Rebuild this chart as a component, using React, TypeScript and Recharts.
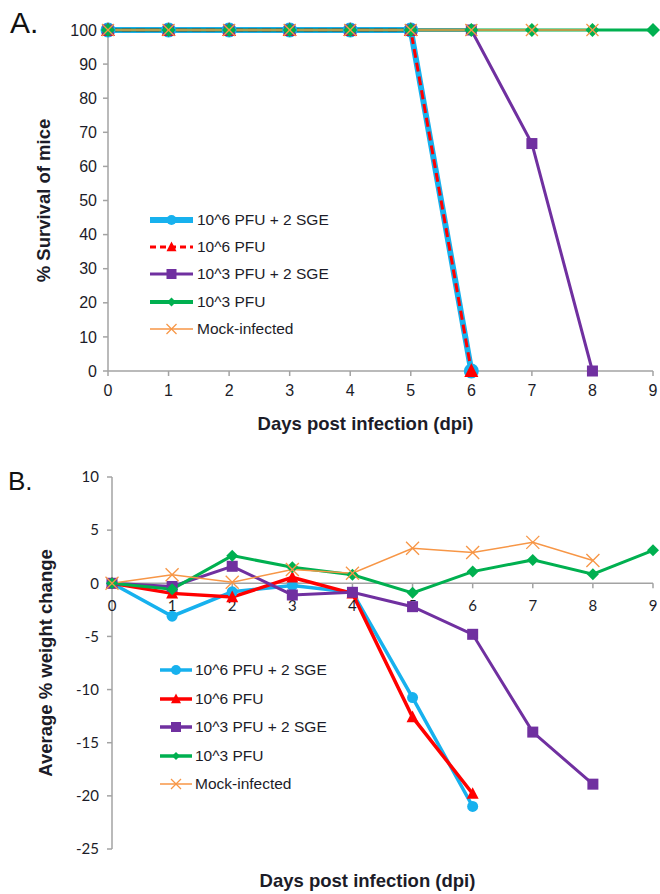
import React from 'react';
import { LineChart, Line, XAxis, YAxis, Legend, ReferenceLine, ReferenceDot } from 'recharts';

// ---------- data ----------
const days = [0, 1, 2, 3, 4, 5, 6, 7, 8, 9];
const seriesNames = ['10^6 PFU + 2 SGE', '10^6 PFU', '10^3 PFU + 2 SGE', '10^3 PFU', 'Mock-infected'];
const survivalTicks = [0, 10, 20, 30, 40, 50, 60, 70, 80, 90, 100];
const weightTicks = [-25, -20, -15, -10, -5, 0, 5, 10];

// Panel A: % survival
const survivalHigh2SGE = [100, 100, 100, 100, 100, 100, 0];
const survivalHigh = [100, 100, 100, 100, 100, 100, 0];
const survivalLow2SGE = [100, 100, 100, 100, 100, 100, 100, 66.7, 0];
const survivalLow = [100, 100, 100, 100, 100, 100, 100, 100, 100, 100];
const survivalMock = [100, 100, 100, 100, 100, 100, 100, 100, 100];

// Panel B: average % weight change
const weightHigh2SGE = [0, -3.1, -0.8, -0.2, -0.85, -10.75, -21.0];
const weightHigh = [0, -0.95, -1.3, 0.55, -0.95, -12.6, -19.8];
const weightLow2SGE = [0, -0.3, 1.6, -1.1, -0.85, -2.2, -4.8, -14.0, -18.9];
const weightLow = [0, -0.55, 2.6, 1.5, 0.8, -0.9, 1.1, 2.2, 0.85, 3.1];
const weightMock = [0, 0.8, 0.1, 1.3, 0.95, 3.3, 2.9, 3.85, 2.15];

const keys = ['s0', 's1', 's2', 's3', 's4'];

const buildRows = (series: number[][]) =>
  days.map((d, i) => {
    const row: any = { day: d };
    series.forEach((arr, k) => {
      row[keys[k]] = i < arr.length ? arr[i] : undefined;
    });
    return row;
  });

const survivalRows = buildRows([survivalHigh2SGE, survivalHigh, survivalLow2SGE, survivalLow, survivalMock]);
const weightRows = buildRows([weightHigh2SGE, weightHigh, weightLow2SGE, weightLow, weightMock]);

// ---------- styles ----------
const FONT_ARIAL = '"Liberation Sans", Arial, sans-serif';
const FONT_CAL = 'Lato, "Open Sans", sans-serif';
const AXIS_GRAY = '#a3a3a3';
const TEXT = '#1c1c28';

type Shape = 'circle' | 'triangle' | 'square' | 'diamond' | 'x';
interface SeriesStyle {
  key: string;
  name: string;
  color: string;
  width: number;
  dash?: string;
  shape: Shape;
  size: number;
  legendSize: number;
  legendWidth: number;
}

const colors = ['#17B1EE', '#FF0000', '#7030A0', '#00B050', '#F79646'];
const shapes: Shape[] = ['circle', 'triangle', 'square', 'diamond', 'x'];

const topStyles: SeriesStyle[] = [
  { key: 's0', name: seriesNames[0], color: colors[0], width: 6, shape: shapes[0], size: 15, legendSize: 10, legendWidth: 6 },
  { key: 's1', name: seriesNames[1], color: colors[1], width: 3, dash: '9 5', shape: shapes[1], size: 14, legendSize: 10, legendWidth: 3 },
  { key: 's2', name: seriesNames[2], color: colors[2], width: 3, shape: shapes[2], size: 11, legendSize: 10, legendWidth: 3 },
  { key: 's3', name: seriesNames[3], color: colors[3], width: 3, shape: shapes[3], size: 14, legendSize: 9, legendWidth: 4 },
  { key: 's4', name: seriesNames[4], color: colors[4], width: 1.5, shape: shapes[4], size: 12, legendSize: 10, legendWidth: 1.5 },
];

const bottomStyles: SeriesStyle[] = [
  { key: 's0', name: seriesNames[0], color: colors[0], width: 3.5, shape: shapes[0], size: 11, legendSize: 10, legendWidth: 3.5 },
  { key: 's1', name: seriesNames[1], color: colors[1], width: 3.5, shape: shapes[1], size: 12, legendSize: 10, legendWidth: 3.5 },
  { key: 's2', name: seriesNames[2], color: colors[2], width: 3, shape: shapes[2], size: 11, legendSize: 10, legendWidth: 3.5 },
  { key: 's3', name: seriesNames[3], color: colors[3], width: 3, shape: shapes[3], size: 12, legendSize: 8, legendWidth: 3.5 },
  { key: 's4', name: seriesNames[4], color: colors[4], width: 1.5, shape: shapes[4], size: 13, legendSize: 10, legendWidth: 1.5 },
];

function Marker({ shape, cx, cy, size, color }: { shape: Shape; cx: number; cy: number; size: number; color: string }) {
  const h = size / 2;
  switch (shape) {
    case 'circle':
      return <circle cx={cx} cy={cy} r={h} fill={color} />;
    case 'triangle':
      return (
        <polygon
          points={`${cx},${cy - size * 0.55} ${cx - h},${cy + size * 0.42} ${cx + h},${cy + size * 0.42}`}
          fill={color}
        />
      );
    case 'square':
      return <rect x={cx - h} y={cy - h} width={size} height={size} fill={color} />;
    case 'diamond':
      return <polygon points={`${cx},${cy - h} ${cx + h},${cy} ${cx},${cy + h} ${cx - h},${cy}`} fill={color} />;
    case 'x':
    default:
      return (
        <g stroke={color} strokeWidth={1.3}>
          <line x1={cx - h} y1={cy - h} x2={cx + h} y2={cy + h} />
          <line x1={cx - h} y1={cy + h} x2={cx + h} y2={cy - h} />
        </g>
      );
  }
}

const makeDot = (s: SeriesStyle) => (props: any) => {
  const { cx, cy, index } = props;
  if (cx == null || cy == null || Number.isNaN(cx) || Number.isNaN(cy)) {
    return <g key={`e-${s.key}-${index}`} />;
  }
  return (
    <g key={`d-${s.key}-${index}`}>
      <Marker shape={s.shape} cx={cx} cy={cy} size={s.size} color={s.color} />
    </g>
  );
};

const makeLegend = (styles: SeriesStyle[], lineLen: number, gap: number, rowH: number) => (props: any) => {
  const payload: any[] = props && props.payload ? props.payload : [];
  return (
    <div style={{ fontFamily: FONT_ARIAL, fontSize: 15.5, color: TEXT }}>
      {styles.map((s) => {
        const entry = payload.find((p) => p.dataKey === s.key);
        const color = entry && entry.color ? entry.color : s.color;
        const label = entry && entry.value ? entry.value : s.name;
        return (
          <div key={s.key} style={{ display: 'flex', alignItems: 'center', height: rowH, whiteSpace: 'nowrap' }}>
            <svg width={lineLen} height={16} style={{ display: 'block', overflow: 'visible' }}>
              <line x1={0} y1={8} x2={lineLen} y2={8} stroke={color} strokeWidth={s.legendWidth} strokeDasharray={s.dash ? '6 4' : undefined} />
              <Marker shape={s.shape} cx={lineLen / 2} cy={8} size={s.legendSize} color={color} />
            </svg>
            <span style={{ marginLeft: gap }}>{label}</span>
          </div>
        );
      })}
    </div>
  );
};

const yTitle = (text: string, xPos: number) => (props: any) => {
  const vb = props && props.viewBox;
  if (!vb) return null;
  const cy = vb.y + vb.height / 2;
  return (
    <text
      x={xPos}
      y={cy}
      transform={`rotate(-90 ${xPos} ${cy})`}
      textAnchor="middle"
      dominantBaseline="central"
      fontFamily={FONT_ARIAL}
      fontWeight="bold"
      fontSize={18.5}
      fill={TEXT}
    >
      {text}
    </text>
  );
};

const xTitle = (text: string, dx: number, dyFromTop: number) => (props: any) => {
  const vb = props && props.viewBox;
  if (!vb) return null;
  const x = vb.x + vb.width / 2 + dx;
  const y = vb.y + dyFromTop;
  return (
    <text x={x} y={y} textAnchor="middle" dominantBaseline="central" fontFamily={FONT_ARIAL} fontWeight="bold" fontSize={18.5} fill={TEXT}>
      {text}
    </text>
  );
};

const makeXTick = (label: number) => (props: any) => {
  const { cx, cy } = props;
  return (
    <g>
      <line x1={cx} y1={cy} x2={cx} y2={cy + 5} stroke={AXIS_GRAY} strokeWidth={1.5} />
      <text x={cx} y={cy + 22} dy="0.35em" textAnchor="middle" fontFamily={FONT_CAL} fontSize={15} fill={TEXT}>
        {label}
      </text>
    </g>
  );
};

export default function App() {
  return (
    <div style={{ position: 'absolute', left: 0, top: 0, width: 660, height: 894, background: '#fff', overflow: 'hidden' }}>
      {/* Panel A */}
      <div style={{ position: 'absolute', left: 0, top: 0 }}>
        <LineChart width={660} height={450} data={survivalRows} margin={{ top: 30, right: 7, bottom: 0, left: 0 }}>
          <XAxis
            dataKey="day"
            type="number"
            domain={[0, 9]}
            ticks={days}
            interval={0}
            height={79}
            stroke={AXIS_GRAY}
            strokeWidth={1.5}
            tickSize={5}
            tickMargin={9}
            tick={{ fill: TEXT, fontSize: 16, fontFamily: FONT_ARIAL }}
            label={xTitle('Days post infection (dpi)', -15, 52)}
          />
          <YAxis
            type="number"
            domain={[0, 100]}
            ticks={survivalTicks}
            interval={0}
            width={108}
            stroke={AXIS_GRAY}
            strokeWidth={1.5}
            tickSize={5}
            tickMargin={6}
            tick={{ fill: TEXT, fontSize: 16, fontFamily: FONT_ARIAL }}
            label={yTitle('% Survival of mice', 43)}
          />
          <Legend
            layout="vertical"
            align="center"
            verticalAlign="middle"
            content={makeLegend(topStyles, 43, 4, 27.3)}
            wrapperStyle={{ left: 150, top: 206, width: 'auto', height: 'auto' }}
          />
          {topStyles.map((s) => (
            <Line
              key={s.key}
              dataKey={s.key}
              name={s.name}
              type="linear"
              stroke={s.color}
              strokeWidth={s.width}
              strokeDasharray={s.dash}
              dot={makeDot(s)}
              activeDot={false}
              isAnimationActive={false}
            />
          ))}
        </LineChart>
      </div>

      {/* Panel B */}
      <div style={{ position: 'absolute', left: 0, top: 450 }}>
        <LineChart width={660} height={444} data={weightRows} margin={{ top: 27, right: 7, bottom: 0, left: 0 }}>
          <XAxis
            dataKey="day"
            type="number"
            domain={[0, 9]}
            ticks={days}
            interval={0}
            height={45}
            axisLine={false}
            tickLine={false}
            tick={false}
            label={xTitle('Days post infection (dpi)', -15, 31)}
          />
          <YAxis
            type="number"
            domain={[-25, 10]}
            ticks={weightTicks}
            interval={0}
            width={112}
            stroke={AXIS_GRAY}
            strokeWidth={1.5}
            tickSize={5}
            tickMargin={8}
            tick={{ fill: TEXT, fontSize: 15, fontFamily: FONT_CAL }}
            label={yTitle('Average % weight change', 45)}
          />
          <ReferenceLine y={0} stroke={AXIS_GRAY} strokeWidth={1.5} />
          {days.map((d) => (
            <ReferenceDot key={`xt-${d}`} x={d} y={0} r={0} shape={makeXTick(d)} />
          ))}
          <Legend
            layout="vertical"
            align="center"
            verticalAlign="middle"
            content={makeLegend(bottomStyles, 32, 3, 28.5)}
            wrapperStyle={{ left: 160, top: 206, width: 'auto', height: 'auto' }}
          />
          {bottomStyles.map((s) => (
            <Line
              key={s.key}
              dataKey={s.key}
              name={s.name}
              type="linear"
              stroke={s.color}
              strokeWidth={s.width}
              dot={makeDot(s)}
              activeDot={false}
              isAnimationActive={false}
            />
          ))}
        </LineChart>
      </div>

      {/* Panel letters */}
      <svg width={660} height={894} style={{ position: 'absolute', left: 0, top: 0, pointerEvents: 'none' }}>
        <text x={10} y={33} fontFamily={FONT_ARIAL} fontSize={30} fill="#111">A.</text>
        <text x={8} y={490} fontFamily={FONT_ARIAL} fontSize={26} fill="#111">B.</text>
      </svg>
    </div>
  );
}
